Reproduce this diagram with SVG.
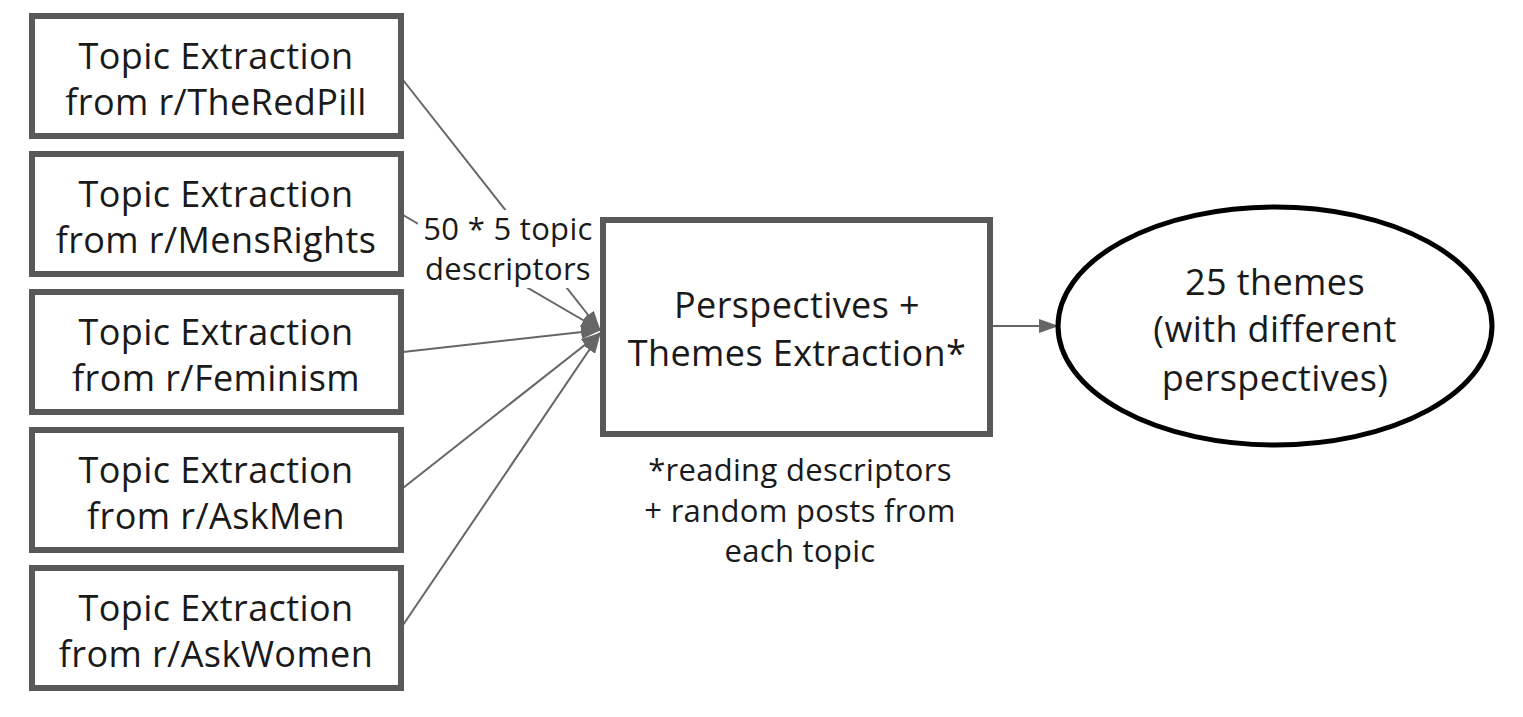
<svg xmlns="http://www.w3.org/2000/svg" width="1523" height="717" viewBox="0 0 1523 717">
<style>
.box{fill:#fff;stroke:#595959;stroke-width:6}
.t{font-family:"Open Sans",Lato,sans-serif;font-size:36px;letter-spacing:0.4px;fill:#1a1a1a;text-anchor:middle}
.s{font-family:"Open Sans",Lato,sans-serif;font-size:31px;letter-spacing:0.3px;fill:#1a1a1a;text-anchor:middle}
.c{stroke:#666;stroke-width:2;fill:none}
</style>
<defs>
<marker id="ah2" markerWidth="20" markerHeight="14" refX="19" refY="7" orient="auto" markerUnits="userSpaceOnUse" viewBox="0 0 20 14">
<path d="M0,0 L20,7 L0,14 z" fill="#666"/>
</marker>
</defs>
<rect width="1523" height="717" fill="#fff"/>
<g id="connectors">
<line class="c" x1="403" y1="80" x2="600" y2="330" marker-end="url(#ah2)"/>
<line class="c" x1="403" y1="215" x2="600" y2="330" marker-end="url(#ah2)"/>
<line class="c" x1="403" y1="352" x2="600" y2="330" marker-end="url(#ah2)"/>
<line class="c" x1="403" y1="488" x2="600" y2="333" marker-end="url(#ah2)"/>
<line class="c" x1="403" y1="625" x2="600" y2="334" marker-end="url(#ah2)"/>
<line class="c" x1="993" y1="326" x2="1058" y2="326" marker-end="url(#ah2)"/>
<g id="edge-label">
<rect x="418" y="210" width="180" height="78" fill="#fff"/>
<text class="s" x="508" y="240">50 * 5 topic</text>
<text class="s" x="508" y="280">descriptors</text>
</g>
</g>
<g id="n1"><rect class="box" x="32" y="16" width="369" height="120"/><text class="t" x="216" y="69">Topic Extraction</text><text class="t" x="216" y="115">from r/TheRedPill</text></g>
<g id="n2"><rect class="box" x="32" y="154" width="369" height="120"/><text class="t" x="216" y="207">Topic Extraction</text><text class="t" x="216" y="253">from r/MensRights</text></g>
<g id="n3"><rect class="box" x="32" y="292" width="369" height="120"/><text class="t" x="216" y="345">Topic Extraction</text><text class="t" x="216" y="391">from r/Feminism</text></g>
<g id="n4"><rect class="box" x="32" y="430" width="369" height="120"/><text class="t" x="216" y="483">Topic Extraction</text><text class="t" x="216" y="529">from r/AskMen</text></g>
<g id="n5"><rect class="box" x="32" y="568" width="369" height="120"/><text class="t" x="216" y="621">Topic Extraction</text><text class="t" x="216" y="667">from r/AskWomen</text></g>
<g id="center"><rect class="box" x="603" y="220" width="387" height="214"/><text class="t" x="797" y="318">Perspectives +</text><text class="t" x="797" y="366">Themes Extraction*</text></g>
<g id="note"><text class="s" x="800" y="481">*reading descriptors</text><text class="s" x="800" y="522">+ random posts from</text><text class="s" x="800" y="562">each topic</text></g>
<g id="out"><ellipse cx="1275" cy="326" rx="217" ry="119" fill="#fff" stroke="#000" stroke-width="5"/><text class="t" x="1275" y="295">25 themes</text><text class="t" x="1275" y="342">(with different</text><text class="t" x="1275" y="391">perspectives)</text></g>
</svg>
